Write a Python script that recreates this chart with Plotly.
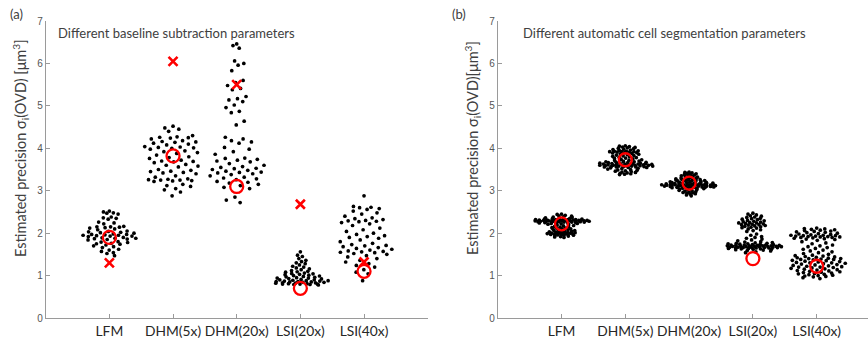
import numpy as np
import plotly.graph_objects as go

categories = ["LFM", "DHM(5x)", "DHM(20x)", "LSI(20x)", "LSI(40x)"]
y_ticks = [0, 1, 2, 3, 4, 5, 6, 7]

# ---------------- Panel (a): different baseline subtraction parameters
lfm_a = [2.52, 2.50, 2.48, 2.47, 2.45, 2.38, 2.36, 2.35, 2.33, 2.26, 2.24, 2.22,
         2.16, 2.15, 2.15, 2.14, 2.13, 2.12, 2.10, 2.08, 2.05, 2.04, 2.03, 2.02,
         2.01, 2.00, 1.98, 1.97, 1.97, 1.96, 1.95, 1.95, 1.94, 1.93, 1.93, 1.92,
         1.90, 1.89, 1.88, 1.88, 1.87, 1.86, 1.85, 1.84, 1.80, 1.79, 1.78, 1.76,
         1.75, 1.74, 1.72, 1.70, 1.68, 1.66, 1.62, 1.60, 1.57, 1.54, 1.52, 1.47]
dhm5_a = [4.52, 4.48, 4.45, 4.40, 4.30, 4.27, 4.26, 4.25, 4.24, 4.22, 4.18, 4.16,
          4.15, 4.14, 4.12, 4.10, 4.08, 4.04, 4.03, 4.02, 4.01, 4.00, 3.98, 3.94,
          3.92, 3.90, 3.88, 3.84, 3.80, 3.78, 3.76, 3.72, 3.70, 3.69, 3.68, 3.66,
          3.62, 3.60, 3.58, 3.56, 3.50, 3.48, 3.46, 3.45, 3.43, 3.42, 3.40, 3.35,
          3.32, 3.28, 3.27, 3.26, 3.25, 3.25, 3.24, 3.23, 3.22, 3.15, 3.12, 3.10,
          3.05, 3.02, 2.97, 2.88]
dhm20_a = [6.46, 6.42, 6.36, 6.06, 6.00, 5.96, 5.83, 5.60, 5.55, 5.48, 5.41, 5.38,
           5.22, 5.17, 5.14, 5.10, 5.02, 4.96, 4.87, 4.84, 4.64, 4.55, 4.26, 4.22,
           4.18, 4.15, 4.12, 4.02, 3.98, 3.92, 3.86, 3.77, 3.76, 3.74, 3.72, 3.70,
           3.68, 3.64, 3.60, 3.57, 3.55, 3.53, 3.52, 3.50, 3.48, 3.46, 3.44, 3.43,
           3.42, 3.40, 3.38, 3.35, 3.32, 3.30, 3.28, 3.26, 3.22, 3.20, 3.18, 3.15,
           3.12, 3.08, 3.05, 2.85, 2.78, 2.72]
lsi20_a = [1.56, 1.48, 1.45, 1.40, 1.36, 1.33, 1.30, 1.28, 1.25, 1.22, 1.20, 1.18,
           1.16, 1.14, 1.12, 1.10, 1.09, 1.08, 1.06, 1.05, 1.04, 1.03, 1.02, 1.01,
           1.00, 0.99, 0.98, 0.97, 0.96, 0.95, 0.94, 0.94, 0.93, 0.92, 0.91, 0.90,
           0.90, 0.89, 0.88, 0.88, 0.87, 0.87, 0.86, 0.86, 0.85, 0.85, 0.84, 0.84,
           0.83, 0.83, 0.82, 0.82, 0.81, 0.81, 0.80, 0.80, 0.80, 0.79, 0.79, 0.78]
lsi40_a = [2.88, 2.63, 2.61, 2.60, 2.58, 2.56, 2.52, 2.48, 2.45, 2.40, 2.36, 2.34,
           2.32, 2.30, 2.29, 2.28, 2.27, 2.25, 2.22, 2.18, 2.12, 2.08, 2.04, 2.00,
           1.97, 1.94, 1.92, 1.90, 1.88, 1.84, 1.80, 1.76, 1.73, 1.71, 1.70, 1.68,
           1.66, 1.64, 1.62, 1.60, 1.58, 1.57, 1.56, 1.55, 1.54, 1.52, 1.50, 1.47,
           1.44, 1.40, 1.36, 1.32, 1.28, 1.24, 1.20, 1.14, 1.08, 1.04, 0.88]
circle_a = [1.90, 3.82, 3.10, 0.70, 1.10]
cross_a = [1.30, 6.05, 5.50, 2.68, 1.32]

# ---------------- Panel (b): different automatic cell segmentation parameters
lfm_b = [2.45, 2.44, 2.42, 2.41, 2.40, 2.39, 2.38, 2.37, 2.36, 2.36,
         2.34, 2.34, 2.33, 2.33, 2.33, 2.32, 2.32, 2.32, 2.32, 2.31, 2.31, 2.31,
         2.31, 2.31, 2.30, 2.30, 2.30, 2.30, 2.30, 2.30, 2.29, 2.29, 2.29, 2.29,
         2.29, 2.28, 2.28, 2.28, 2.28, 2.28, 2.27, 2.27, 2.27, 2.27, 2.26, 2.26,
         2.26, 2.26, 2.25, 2.25, 2.25, 2.24, 2.24, 2.23, 2.23,
         2.22, 2.21, 2.20, 2.19, 2.18, 2.17, 2.16, 2.15, 2.14, 2.13, 2.12, 2.11,
         2.10, 2.10, 2.09, 2.08, 2.07, 2.06, 2.05, 2.05, 2.04, 2.03, 2.03, 2.02,
         2.02, 2.01, 2.01, 2.00, 2.00, 2.00, 1.99, 1.99, 1.98, 1.98, 1.97, 1.97,
         1.96, 1.96, 1.95, 1.95, 1.94, 1.93, 1.92, 1.91, 1.90]
dhm5_b = [4.06, 4.05, 4.04, 4.03, 4.02, 4.01, 4.00, 3.99, 3.98, 3.97, 3.96, 3.95,
          3.94, 3.93, 3.93, 3.92, 3.92, 3.92, 3.91, 3.91, 3.90, 3.90, 3.89, 3.88,
          3.87, 3.86, 3.85, 3.84, 3.83, 3.82, 3.81, 3.80, 3.79, 3.78, 3.77, 3.76,
          3.75, 3.74, 3.73, 3.72, 3.71, 3.70,
          3.69, 3.68, 3.68, 3.67, 3.67, 3.66, 3.66, 3.65, 3.65, 3.65, 3.64, 3.64,
          3.64, 3.63, 3.63, 3.63, 3.62, 3.62, 3.62, 3.61, 3.61, 3.61, 3.60, 3.60,
          3.60, 3.60, 3.59, 3.59, 3.59, 3.58, 3.58, 3.58, 3.57, 3.57, 3.57, 3.56,
          3.56, 3.56, 3.55, 3.55,
          3.54, 3.53, 3.52, 3.51, 3.50, 3.49, 3.48, 3.47, 3.46, 3.45, 3.44, 3.43,
          3.42, 3.41, 3.40, 3.39, 3.38]
dhm20_b = [3.44, 3.43, 3.42, 3.41, 3.40, 3.39, 3.38, 3.37, 3.36, 3.35, 3.34, 3.33,
           3.32, 3.31, 3.30, 3.29, 3.28, 3.28, 3.27, 3.27, 3.26, 3.26, 3.25, 3.25,
           3.24, 3.24, 3.23, 3.23, 3.22, 3.22, 3.21, 3.21, 3.20, 3.20, 3.20,
           3.19, 3.19, 3.18, 3.18, 3.18, 3.17, 3.17, 3.17, 3.16, 3.16, 3.16, 3.15,
           3.15, 3.15, 3.15, 3.14, 3.14, 3.14, 3.14, 3.13, 3.13, 3.13, 3.13, 3.12,
           3.12, 3.12, 3.12, 3.11, 3.11, 3.11, 3.11, 3.10, 3.10, 3.10, 3.10, 3.09,
           3.09, 3.09, 3.08, 3.08, 3.08, 3.07, 3.07, 3.06, 3.06, 3.05, 3.05,
           3.04, 3.03, 3.02, 3.01, 3.00, 2.99, 2.98, 2.97, 2.96, 2.95, 2.94, 2.93,
           2.92, 2.90, 2.88]
lsi20_b = [2.47, 2.45, 2.43, 2.41, 2.40, 2.38, 2.37, 2.35, 2.34, 2.33, 2.32, 2.30,
           2.29, 2.28, 2.27, 2.26, 2.25, 2.24, 2.24, 2.23, 2.22, 2.21, 2.20, 2.20,
           2.19, 2.18, 2.17, 2.16, 2.15, 2.14, 2.13, 2.12, 2.10, 2.08, 2.06, 2.04,
           1.98, 1.95, 1.92, 1.90, 1.88, 1.86, 1.84, 1.82, 1.80,
           1.79, 1.78, 1.77, 1.76, 1.76, 1.75, 1.75, 1.74, 1.74, 1.73, 1.73, 1.72,
           1.72, 1.72, 1.71, 1.71, 1.71, 1.70, 1.70, 1.70, 1.70, 1.69, 1.69, 1.69,
           1.69, 1.68, 1.68, 1.68, 1.68, 1.67, 1.67, 1.67, 1.67, 1.66, 1.66, 1.66,
           1.65, 1.65, 1.65, 1.64, 1.64, 1.63, 1.63, 1.62, 1.62, 1.61, 1.60, 1.59,
           1.58, 1.56, 1.54]
lsi40_b = [2.12, 2.11, 2.10, 2.09, 2.08, 2.07, 2.06, 2.05, 2.04, 2.03, 2.02, 2.01,
           2.00, 1.99, 1.98, 1.97, 1.96, 1.95, 1.95, 1.94, 1.94, 1.93, 1.93, 1.92,
           1.92, 1.91, 1.91, 1.90, 1.90, 1.89, 1.88, 1.87, 1.86, 1.85,
           1.83, 1.80, 1.77, 1.75, 1.72, 1.70, 1.68, 1.66, 1.64, 1.62, 1.60, 1.58,
           1.56,
           1.54, 1.52, 1.50, 1.48, 1.47, 1.46, 1.45, 1.44, 1.43, 1.42, 1.41, 1.40,
           1.40, 1.39, 1.38, 1.38, 1.37, 1.36, 1.35, 1.34, 1.33, 1.32, 1.31, 1.30,
           1.30, 1.29, 1.28, 1.27, 1.26, 1.25, 1.24, 1.23, 1.22, 1.21, 1.20, 1.20,
           1.19, 1.18, 1.17, 1.16, 1.15, 1.14, 1.13, 1.12, 1.11, 1.10, 1.09, 1.08,
           1.07, 1.06, 1.05, 1.04, 1.03, 1.02, 1.01, 1.00, 0.99, 0.98, 0.97, 0.95,
           0.93]
circle_b = [2.22, 3.73, 3.18, 1.40, 1.22]

groups_a = [lfm_a, dhm5_a, dhm20_a, lsi20_a, lsi40_a]
groups_b = [lfm_b, dhm5_b, dhm20_b, lsi20_b, lsi40_b]

GOLD = 0.6180339887


def swarm_x(center, vals, half_width=0.45):
    """Density-scaled jitter (like a swarm chart): offset width follows a KDE."""
    v = np.asarray(vals, dtype=float)
    n = len(v)
    sd = v.std()
    iqr = np.subtract(*np.percentile(v, [75, 25]))
    h = 0.9 * min(sd, iqr / 1.34 if iqr > 0 else sd) * n ** -0.2
    d = np.exp(-0.5 * ((v[:, None] - v[None, :]) / h) ** 2).sum(axis=1)
    d = d / d.max()
    order = np.argsort(-v, kind="stable")
    s = np.empty(n)
    for rank, idx in enumerate(order):
        s[idx] = 2 * ((rank * GOLD + 0.5) % 1.0) - 1
    return center + half_width * d * s


fig = go.Figure()

panels = [("x", "y", groups_a, circle_a, cross_a),
          ("x2", "y2", groups_b, circle_b, None)]
for xa, ya, groups, circ, cross in panels:
    xs, ys = [], []
    for i, g in enumerate(groups):
        xs.extend(swarm_x(i + 1, g).tolist())
        ys.extend(g)
    fig.add_trace(go.Scatter(x=xs, y=ys, mode="markers", xaxis=xa, yaxis=ya,
                             marker=dict(color="black", size=3.7, line=dict(width=0)),
                             showlegend=False, hoverinfo="y"))
    fig.add_trace(go.Scatter(x=list(range(1, 6)), y=circ, mode="markers",
                             xaxis=xa, yaxis=ya, showlegend=False,
                             marker=dict(symbol="circle-open", size=13, color="#ff0000",
                                         line=dict(width=2.3, color="#ff0000"))))
    if cross is not None:
        fig.add_trace(go.Scatter(x=list(range(1, 6)), y=cross, mode="markers",
                                 xaxis=xa, yaxis=ya, showlegend=False,
                                 marker=dict(symbol="x-thin-open", size=9, color="#ff0000",
                                             line=dict(width=2.6, color="#ff0000"))))

W, H = 868, 346
y_dom = [(H - 318) / H, (H - 21) / H]
axis_col = "#9a9a9a"
common_x = dict(tickmode="array", tickvals=[1, 2, 3, 4, 5], ticktext=categories,
                ticks="inside", ticklen=4, tickcolor=axis_col, showline=True,
                linecolor=axis_col, linewidth=1, showgrid=False, zeroline=False,
                tickangle=0, automargin=False,
                tickfont=dict(family="Lato, sans-serif", size=13.8, color="#262626"))
common_y = dict(range=[0, 7], tickmode="array", tickvals=y_ticks,
                ticks="inside", ticklen=4, tickcolor=axis_col, showline=True,
                linecolor=axis_col, linewidth=1, showgrid=False, zeroline=False,
                automargin=False,
                tickfont=dict(family="Liberation Sans, Arial, sans-serif", size=10,
                              color="#555555"), domain=y_dom)

fig.update_layout(
    width=W, height=H, margin=dict(l=0, r=0, t=0, b=0),
    plot_bgcolor="white", paper_bgcolor="white",
    xaxis=dict(common_x, domain=[45.7 / W, 427.7 / W], range=[0, 6]),
    yaxis=dict(common_y, anchor="x"),
    xaxis2=dict(common_x, domain=[497.7 / W, 1.0], range=[0, (W - 497.7) / 63.8],
                anchor="y2"),
    yaxis2=dict(common_y, anchor="x2"),
)

txt_font = dict(family="Lato, sans-serif", size=13, color="#404040")
ylab_font = dict(family="Lato, sans-serif", size=14.5, color="#404040")
fig.add_annotation(x=8 / W, y=1 - 14 / H, xref="paper", yref="paper", text="(a)",
                   showarrow=False, xanchor="left", yanchor="middle", font=txt_font)
fig.add_annotation(x=450 / W, y=1 - 14 / H, xref="paper", yref="paper", text="(b)",
                   showarrow=False, xanchor="left", yanchor="middle", font=txt_font)
fig.add_annotation(x=56 / W, y=1 - 33 / H, xref="paper", yref="paper",
                   text="Different baseline subtraction parameters",
                   showarrow=False, xanchor="left", yanchor="middle", font=txt_font)
fig.add_annotation(x=521 / W, y=1 - 33 / H, xref="paper", yref="paper",
                   text="Different automatic cell segmentation parameters",
                   showarrow=False, xanchor="left", yanchor="middle", font=txt_font)
fig.add_annotation(x=20 / W, y=1 - 148 / H, xref="paper", yref="paper", textangle=-90,
                   text="Estimated precision σ<sub>i</sub>(OVD) [μm<sup>3</sup>]",
                   showarrow=False, xanchor="center", yanchor="middle", font=ylab_font)
fig.add_annotation(x=472 / W, y=1 - 148 / H, xref="paper", yref="paper", textangle=-90,
                   text="Estimated precision σ<sub>i</sub>(OVD)[μm<sup>3</sup>]",
                   showarrow=False, xanchor="center", yanchor="middle", font=ylab_font)

fig.write_html("out.html", config={"displayModeBar": False},
               post_script="document.body.style.margin='0';document.body.style.overflow='hidden';")
